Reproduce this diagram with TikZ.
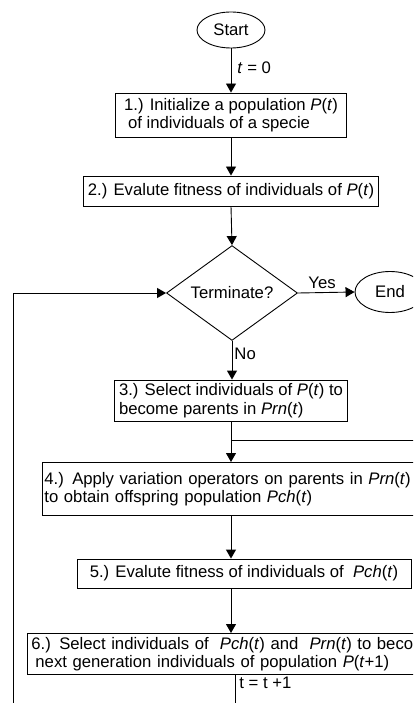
\documentclass[tikz,border=0pt]{standalone}
\usepackage{fontspec}
\setmainfont{Liberation Sans}
\usetikzlibrary{arrows.meta,shapes.geometric}
\begin{document}
\begin{tikzpicture}[x=1pt,y=-1pt,line width=0.9pt,
  every node/.style={font=\fontsize{16.7}{18.5}\selectfont},
  box/.style={draw,rectangle,inner sep=0pt},
  term/.style={draw,ellipse,inner sep=0pt},
  decision/.style={draw,diamond,inner sep=0pt},
  flow/.style={-{Triangle[length=9pt,width=10pt]}},
  lbl/.style={inner sep=0pt}]
\useasboundingbox (0,0) rectangle (413,703);
\clip (0,0) rectangle (413,703);

% main column
\coordinate (axis) at (231,0);

% nodes
\node[term,minimum width=68,minimum height=36] (start) at (231,30) {Start};
\node[box,minimum width=231,minimum height=44,align=left] (s1) at (231,115)
  {1.) Initialize a population \textit{P}(\textit{t})\\\hspace{4pt}of individuals of a specie};
\node[box,minimum width=295,minimum height=30] (s2) at (231,191)
  {2.) Evalute fitness of individuals of \textit{P}(\textit{t})};
\node[decision,minimum width=131,minimum height=86] (dec) at (232,293) {Terminate?};
\node[term,minimum width=70,minimum height=41] (end) at (390,292) {End};
\node[box,minimum width=233,minimum height=41,align=left] (s3) at (231,400.5)
  {3.) Select individuals of \textit{P}(\textit{t}) to\\become parents in \textit{Prn}(\textit{t})};
\node[box,anchor=north west,minimum height=53,
      text width=400,inner xsep=2pt,align=left] (s4) at (42,462)
  {4.) Apply variation operators on parents in \textit{Prn}(\textit{t})\\to obtain offspring population \textit{Pch}(\textit{t})};
\node[box,minimum width=334,minimum height=29] (s5) at (244,573.5)
  {5.) Evalute fitness of individuals of \ \textit{Pch}(\textit{t})};
\node[box,anchor=north west,minimum height=41,
      text width=440,inner xsep=4pt,align=left] (s6) at (27,633)
  {6.) Select individuals of \ \textit{Pch}(\textit{t}) and \ \textit{Prn}(\textit{t}) to become\\\hspace{4pt}next generation individuals of population \textit{P}(\textit{t}+1)};

% auxiliary points
\coordinate (jn) at (231,440);
\coordinate (jr) at (420,440);
\coordinate (loopc) at (235,715);
\coordinate (loopl) at (13,715);

% connectors
\draw[flow] (start.south -| axis) -- (s1.north -| axis);
\draw[flow] (s1.south -| axis) -- (s2.north -| axis);
\draw[flow] (s2.south -| axis) -- (dec.north);
\draw[flow] (dec.east) -- (end.west);
\draw[flow] (dec.south) -- (dec.south |- s3.north);
\draw[flow] (s3.south -| axis) -- (s4.north -| axis);
\draw (jr) -- (jn);
\draw[flow] (s4.south -| axis) -- (s5.north -| axis);
\draw[flow] (s5.south -| axis) -- (s6.north -| axis);
\draw[flow] (s6.south -| loopc) -- (loopc) -- (loopl) |- (dec.west);

% labels
\node[lbl,anchor=west] (l0) at (237,68) {\textit{t} = 0};
\node[lbl] (lyes) at (322,283) {Yes};
\node[lbl,anchor=west] (lno) at (234,354) {No};
\node[lbl,anchor=west] (linc) at (239,683) {t = t +1};
\end{tikzpicture}
\end{document}
